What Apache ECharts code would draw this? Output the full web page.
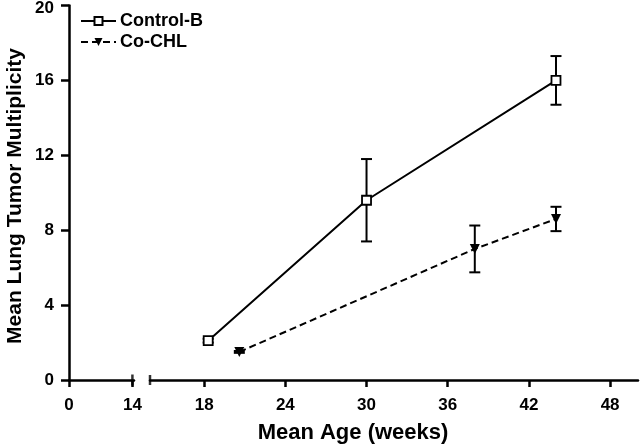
<!DOCTYPE html>
<html>
<head>
<meta charset="utf-8">
<script src="https://cdn.jsdelivr.net/npm/echarts@6/dist/echarts.min.js"></script>
<style>html,body{margin:0;padding:0;background:#fff}#c{width:640px;height:444px}</style>
</head>
<body>
<div id="c"></div>
<script>
// Data
const ctrlAge = [18.3, 30, 44];
const ctrlMean = [2.1, 9.6, 16.0];
const ctrlErr = [0.1, 2.2, 1.3];
const chlAge = [20.6, 38, 44];
const chlMean = [1.5, 7.0, 8.6];
const chlErr = [0.05, 1.25, 0.65];
const leftTicks = [0, 14];
const rightTicks = [18, 24, 30, 36, 42, 48];
const yMax = 20;
const breakAt = [14];

const F = 'Liberation Sans';
const chart = echarts.init(document.getElementById('c'), null, {renderer: 'canvas'});

function errSeries(ages, means, errs) {
  return {
    type: 'custom', xAxisIndex: 1, yAxisIndex: 1, silent: true, z: 3,
    data: ages.map((a, i) => [a, means[i], errs[i]]),
    renderItem: function (params, api) {
      const x = api.value(0), m = api.value(1), e = api.value(2);
      const top = api.coord([x, m + e]);
      const bot = api.coord([x, m - e]);
      const hw = 5.5;
      const st = {stroke: '#000', lineWidth: 2};
      return {type: 'group', children: [
        {type: 'line', shape: {x1: top[0], y1: top[1], x2: bot[0], y2: bot[1]}, style: st},
        {type: 'line', shape: {x1: top[0] - hw, y1: top[1], x2: top[0] + hw, y2: top[1]}, style: st},
        {type: 'line', shape: {x1: bot[0] - hw, y1: bot[1], x2: bot[0] + hw, y2: bot[1]}, style: st}
      ]};
    }
  };
}

const axisLine = {lineStyle: {color: '#000', width: 2.5}};
const lbl = {fontSize: 17, fontWeight: 'bold', fontFamily: F, color: '#000'};

chart.setOption({
  animation: false,
  textStyle: {fontFamily: F, fontWeight: 'bold', color: '#000'},
  grid: [
    {left: 69, top: 5.5, width: 65, bottom: 64, outerBoundsMode: 'none', containLabel: false},
    {left: 150, top: 5.5, right: 2, bottom: 64, outerBoundsMode: 'none', containLabel: false}
  ],
  xAxis: [
    {
      type: 'value', gridIndex: 0, min: 0, max: 14.35, axisLine: axisLine, splitLine: {show: false},
      axisTick: {lineStyle: {color: '#000', width: 2.5}, length: 7, customValues: leftTicks},
      axisLabel: Object.assign({customValues: leftTicks, margin: 17}, lbl)
    },
    {
      type: 'value', gridIndex: 1, min: 14, max: 50.06, axisLine: axisLine, splitLine: {show: false},
      axisTick: {lineStyle: {color: '#000', width: 2.5}, length: 7, customValues: rightTicks},
      axisLabel: Object.assign({customValues: rightTicks, margin: 17}, lbl)
    }
  ],
  yAxis: [
    {
      type: 'value', gridIndex: 0, min: 0, max: yMax, interval: 4, axisLine: axisLine, splitLine: {show: false},
      axisTick: {show: true, lineStyle: {color: '#000', width: 2.5}, length: 8},
      axisLabel: Object.assign({
        margin: 15,
        formatter: function (v) { return v === yMax ? '{top|' + v + '}' : String(v); },
        rich: {top: {fontSize: 17, fontWeight: 'bold', fontFamily: F, color: '#000', padding: [6, 0, 0, 0]}}
      }, lbl)
    },
    {type: 'value', gridIndex: 1, min: 0, max: yMax, interval: 4, show: false}
  ],
  legend: {
    data: ['Control-B', 'Co-CHL'], orient: 'vertical', left: 80, top: 12, padding: 0,
    itemWidth: 35, itemHeight: 10, itemGap: 3,
    textStyle: {color: '#000', fontFamily: F, fontWeight: 'bold', fontSize: 18, padding: [0, 0, 0, -1]}
  },
  graphic: [
    {
      type: 'text', x: 353, y: 433, z: 10,
      style: {text: 'Mean Age (weeks)', fill: '#000', font: 'bold 22px "Liberation Sans"', textAlign: 'center', textVerticalAlign: 'middle'}
    },
    {
      type: 'text', x: 15, y: 196, rotation: Math.PI / 2, z: 10,
      style: {text: 'Mean Lung Tumor Multiplicity', fill: '#000', font: 'bold 21px "Liberation Sans"', textAlign: 'center', textVerticalAlign: 'middle'}
    }
  ],
  series: [
    {
      name: 'Control-B', type: 'line', xAxisIndex: 1, yAxisIndex: 1, z: 4,
      data: ctrlAge.map((a, i) => [a, ctrlMean[i]]),
      symbol: 'rect', symbolSize: 9, showAllSymbol: true,
      lineStyle: {color: '#000', width: 2},
      itemStyle: {color: '#fff', borderColor: '#000', borderWidth: 1.8}
    },
    {
      name: 'Co-CHL', type: 'line', xAxisIndex: 1, yAxisIndex: 1, z: 4,
      data: chlAge.map((a, i) => [a, chlMean[i]]),
      symbol: 'triangle', symbolRotate: 180, symbolSize: 10,
      lineStyle: {color: '#000', width: 2, type: [7, 4]},
      itemStyle: {color: '#000', borderColor: '#000', borderWidth: 0}
    },
    errSeries(ctrlAge, ctrlMean, ctrlErr),
    errSeries(chlAge, chlMean, chlErr),
    {
      type: 'scatter', xAxisIndex: 0, yAxisIndex: 0, silent: true, clip: false,
      data: breakAt.map(v => [v, 0]), symbol: 'rect', symbolSize: [2.5, 11],
      itemStyle: {color: '#000'}
    },
    {
      type: 'scatter', xAxisIndex: 1, yAxisIndex: 1, silent: true, clip: false,
      data: breakAt.map(v => [v, 0]), symbol: 'rect', symbolSize: [2.5, 10],
      itemStyle: {color: '#000'}
    }
  ]
});
</script>
</body>
</html>
